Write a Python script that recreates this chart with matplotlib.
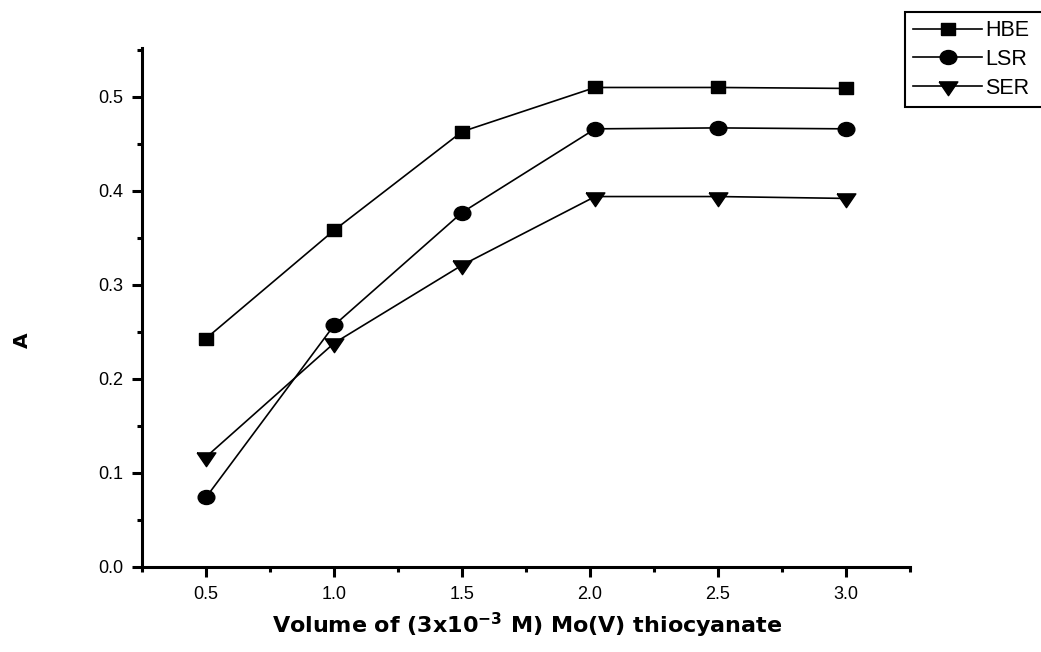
# Absorbance vs volume of Mo(V) thiocyanate for three samples

import matplotlib
matplotlib.use("Agg")
import matplotlib.pyplot as plt
from matplotlib.path import Path
from matplotlib.transforms import Affine2D
from matplotlib.ticker import MultipleLocator

plt.rcParams['font.family'] = ['Liberation Sans', 'DejaVu Sans']
plt.rcParams['mathtext.fontset'] = 'custom'
plt.rcParams['mathtext.bf'] = 'DejaVu Sans:bold'
plt.rcParams['mathtext.rm'] = 'DejaVu Sans'

volume = [0.5, 1.0, 1.5, 2.02, 2.5, 3.0]
hbe = [0.243, 0.358, 0.463, 0.510, 0.510, 0.509]
lsr = [0.074, 0.257, 0.377, 0.466, 0.467, 0.466]
ser = [0.117, 0.238, 0.321, 0.394, 0.394, 0.392]
labels = ["HBE", "LSR", "SER"]

# markers are slightly wider than tall in the original
square = [(-1, -0.86), (1, -0.86), (1, 0.86), (-1, 0.86), (-1, -0.86)]
ellipse = Path.unit_circle().transformed(Affine2D().scale(1, 0.84))
tri_down = [(-1, 0.49), (1, 0.49), (0, -0.98), (-1, 0.49)]


if __name__ == "__main__":
    fig = plt.figure(figsize=(10.41, 6.52), dpi=100)
    ax = fig.add_axes([0.1364, 0.1304, 0.7378, 0.796])

    lw = 1.2
    ax.plot(volume, hbe, 'k-', marker=square, ms=10.3, lw=lw, label=labels[0])
    ax.plot(volume, lsr, 'k-', marker=ellipse, ms=12, lw=lw, label=labels[1])
    ax.plot(volume, ser, 'k-', marker=tri_down, ms=13.5, lw=lw, label=labels[2])

    ax.set_xlim(0.25, 3.25)
    ax.set_ylim(0.0, 0.552)
    ax.xaxis.set_major_locator(MultipleLocator(0.5))
    ax.xaxis.set_minor_locator(MultipleLocator(0.25))
    ax.yaxis.set_major_locator(MultipleLocator(0.1))
    ax.yaxis.set_minor_locator(MultipleLocator(0.05))

    for side in ['top', 'right']:
        ax.spines[side].set_visible(False)
    for side in ['left', 'bottom']:
        ax.spines[side].set_linewidth(2.2)

    ax.tick_params(which='major', direction='out', length=7, width=2.2,
                   labelsize=13, pad=6.5)
    ax.tick_params(which='minor', direction='out', length=3.8, width=2.2)
    ax.xaxis.set_major_formatter(plt.FormatStrFormatter('%.1f'))
    ax.yaxis.set_major_formatter(plt.FormatStrFormatter('%.1f'))

    ax.set_xlabel(r'Volume of (3x10$^{\mathbf{-3}}$ M) Mo(V) thiocyanate',
                  family='DejaVu Sans', fontsize=16, fontweight='bold', va='center')
    ax.xaxis.set_label_coords(0.501, -0.112)
    ax.set_ylabel('A', family='DejaVu Sans', fontsize=14.5, fontweight='bold',
                  va='center')
    ax.yaxis.set_label_coords(-0.156, 0.437)

    # legend box runs off the right edge of the figure, as in the original
    leg = fig.legend(loc='upper left',
                     bbox_to_anchor=(905 / 1041, 0.5, 0.5, 0.5 - 12 / 652),
                     mode='expand', fontsize=15.5, frameon=True, fancybox=False,
                     handlelength=3.2, handletextpad=0.15, labelspacing=0.36,
                     borderpad=0.38, borderaxespad=0)
    leg.get_frame().set_edgecolor('black')
    leg.get_frame().set_linewidth(1.5)
    leg.get_frame().set_alpha(1)

    plt.savefig("out.png", dpi=100)
